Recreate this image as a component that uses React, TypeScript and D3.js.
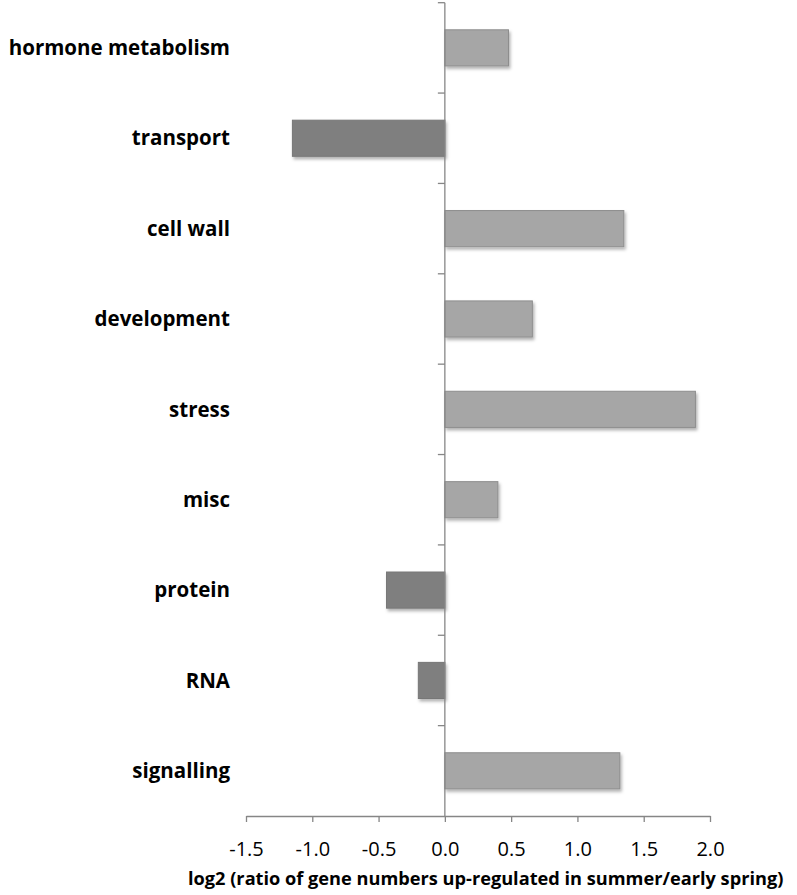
import React, { useEffect, useRef } from "react";
import * as d3 from "d3";

const categories = [
  "hormone metabolism",
  "transport",
  "cell wall",
  "development",
  "stress",
  "misc",
  "protein",
  "RNA",
  "signalling",
];
const values = [0.48, -1.15, 1.35, 0.66, 1.89, 0.4, -0.44, -0.2, 1.32];
const xTicks = [-1.5, -1.0, -0.5, 0.0, 0.5, 1.0, 1.5, 2.0];
const xTitle = "log2 (ratio of gene numbers up-regulated in summer/early spring)";

const App = () => {
  const svgRef = useRef<SVGSVGElement>(null);

  useEffect(() => {
    const svg = d3.select(svgRef.current);
    svg.selectAll("*").remove();

    const width = 797;
    const height = 895;
    const left = 246;
    const right = 710;
    const top = 2.7;
    const bottom = 816;
    const font = "'Open Sans', 'Noto Sans', sans-serif";

    const x = d3.scaleLinear().domain([-1.5, 2.0]).range([left, right]);
    const y = d3
      .scaleBand()
      .domain(categories)
      .range([top, bottom])
      .paddingInner(0.6)
      .paddingOuter(0.3);

    svg.attr("width", width).attr("height", height);

    // soft drop shadow like the original office chart
    const defs = svg.append("defs");
    const f = defs
      .append("filter")
      .attr("id", "shadow")
      .attr("x", "-10%")
      .attr("y", "-20%")
      .attr("width", "130%")
      .attr("height", "160%");
    f.append("feDropShadow")
      .attr("dx", 1.5)
      .attr("dy", 2.5)
      .attr("stdDeviation", 1.5)
      .attr("flood-color", "#000")
      .attr("flood-opacity", 0.3);

    // bars
    svg
      .append("g")
      .selectAll("rect")
      .data(values)
      .join("rect")
      .attr("x", (d) => x(Math.min(0, d)))
      .attr("y", (d, i) => y(categories[i])!)
      .attr("width", (d) => Math.abs(x(d) - x(0)))
      .attr("height", y.bandwidth())
      .attr("fill", (d) => (d < 0 ? "#7f7f7f" : "#a6a6a6"))
      .attr("stroke", (d) => (d < 0 ? "#777" : "#8e8e8e"))
      .attr("stroke-width", 1)
      .attr("filter", "url(#shadow)");

    // x axis
    const xAxis = svg
      .append("g")
      .attr("transform", `translate(0,${bottom})`)
      .call(
        d3
          .axisBottom(x)
          .tickValues(xTicks)
          .tickSize(6)
          .tickSizeOuter(0)
          .tickPadding(20)
          .tickFormat((d) => (d as number).toFixed(1))
      );
    xAxis.selectAll("path, line").attr("stroke", "#868686").attr("stroke-width", 1.3);
    xAxis
      .selectAll("text")
      .attr("fill", "#000")
      .style("font-family", font)
      .style("font-size", "20px");

    // vertical zero axis with ticks between categories
    const step = y.step();
    const yAxis = svg.append("g");
    yAxis
      .append("line")
      .attr("x1", x(0))
      .attr("x2", x(0))
      .attr("y1", top)
      .attr("y2", bottom)
      .attr("stroke", "#868686")
      .attr("stroke-width", 1.3);
    const bounds = categories.map((c) => y(c)! - step * 0.3);
    yAxis
      .selectAll(".yt")
      .data(bounds)
      .join("line")
      .attr("class", "yt")
      .attr("x1", x(0) - 7)
      .attr("x2", x(0))
      .attr("y1", (d) => d)
      .attr("y2", (d) => d)
      .attr("stroke", "#868686")
      .attr("stroke-width", 1.3);

    // category labels
    svg
      .append("g")
      .selectAll("text")
      .data(categories)
      .join("text")
      .attr("x", 230)
      .attr("y", (d) => y(d)! + y.bandwidth() / 2)
      .attr("dy", "0.35em")
      .attr("text-anchor", "end")
      .style("font-family", font)
      .style("font-weight", "bold")
      .style("font-size", "20.5px")
      .text((d) => d);

    // x title
    svg
      .append("text")
      .attr("x", 188)
      .attr("y", 885)
      .style("font-family", font)
      .style("font-weight", "bold")
      .style("font-size", "18.2px")
      .text(xTitle);
  }, []);

  return (
    <svg
      ref={svgRef}
      style={{ position: "absolute", left: 0, top: 0, background: "#fff" }}
    ></svg>
  );
};

export default App;
